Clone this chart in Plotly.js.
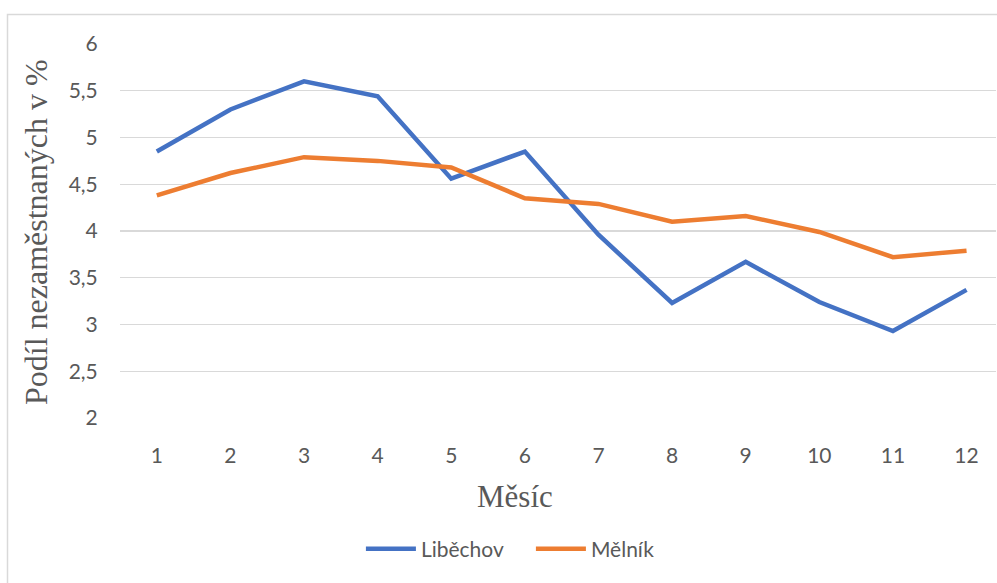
<!DOCTYPE html>
<html>
<head>
<meta charset="utf-8">
<script src="https://cdn.plot.ly/plotly-3.0.1.min.js"></script>
<style>html,body{margin:0;padding:0;background:#fff;}#chart{width:997px;height:583px;}</style>
</head>
<body>
<div id="chart"></div>
<script>
const months = [1, 2, 3, 4, 5, 6, 7, 8, 9, 10, 11, 12];
const libechov = [4.85, 5.30, 5.60, 5.44, 4.56, 4.85, 3.96, 3.23, 3.67, 3.24, 2.93, 3.37];
const melnik = [4.38, 4.62, 4.79, 4.75, 4.68, 4.35, 4.29, 4.10, 4.16, 3.99, 3.72, 3.79];
const seriesNames = ["Liběchov", "Mělník"];
const yTicks = [2, 2.5, 3, 3.5, 4, 4.5, 5, 5.5, 6];
const xTitle = "Měsíc";
const yTitle = "Podíl nezaměstnaných v %";

const tickFont = {family: "Lato, 'Open Sans', sans-serif", size: 21, color: "#595959"};
const serif = "'Liberation Serif', 'DejaVu Serif', serif";

const traces = [
  {x: months, y: libechov, name: seriesNames[0], type: "scatter", mode: "lines",
   line: {color: "#4472C4", width: 4.5}},
  {x: months, y: melnik, name: seriesNames[1], type: "scatter", mode: "lines",
   line: {color: "#ED7D31", width: 4.5}}
];

const layout = {
  width: 997, height: 583,
  margin: {l: 120, r: 1, t: 44, b: 165},
  paper_bgcolor: "#ffffff", plot_bgcolor: "#ffffff",
  separators: ", ",
  showlegend: true,
  legend: {orientation: "h", x: 0.362, xanchor: "left", xref: "container", y: 0.058, yanchor: "middle", yref: "container",
           font: tickFont, itemwidth: 50, entrywidth: 105, entrywidthmode: "pixels", tracegroupgap: 0},
  xaxis: {
    range: [0.5, 12.4], tickmode: "array", tickvals: months, ticktext: months.map(String),
    showgrid: false, zeroline: false, showline: false,
    ticks: "outside", ticklen: 19, tickcolor: "rgba(0,0,0,0)",
    tickfont: tickFont
  },
  yaxis: {
    range: [2, 6], tickmode: "array", tickvals: yTicks,
    tickformat: ".1~f",
    showgrid: true, gridcolor: "#d9d9d9", gridwidth: 1.3, zeroline: false, showline: false,
    ticks: "outside", ticklen: 17, tickcolor: "rgba(0,0,0,0)",
    tickfont: tickFont
  },
  annotations: [
    {text: xTitle, xref: "paper", yref: "paper", x: (515 - 120) / 876, y: (418 - 496) / 374,
     xanchor: "center", yanchor: "middle", showarrow: false,
     font: {family: serif, size: 31, color: "#595959"}},
    {text: yTitle, xref: "paper", yref: "paper", x: (36 - 120) / 876, y: (418 - 232) / 374,
     xanchor: "center", yanchor: "middle", showarrow: false, textangle: -90,
     font: {family: serif, size: 32, color: "#595959"}}
  ],
  shapes: [{
    type: "rect", xref: "paper", yref: "paper",
    x0: (7.5 - 120) / 876, x1: 1.05, y0: -0.5, y1: (583 - 14.5 - 165) / 374,
    line: {color: "#d9d9d9", width: 1.5}, fillcolor: "rgba(0,0,0,0)", layer: "below"
  }]
};

Plotly.newPlot("chart", traces, layout, {displayModeBar: false, staticPlot: true});
</script>
</body>
</html>
